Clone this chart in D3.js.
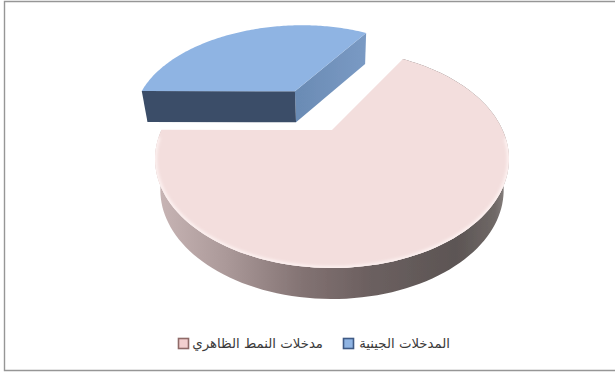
<!DOCTYPE html>
<html lang="ar">
<head>
<meta charset="utf-8">
<style>
  html, body { margin: 0; padding: 0; background: #fff; }
  svg { display: block; }
</style>
<script src="https://cdn.jsdelivr.net/npm/d3@7"></script>
</head>
<body>
<div id="chart"></div>
<script>
// Categories and shares of the exploded 3D pie
const categories = ["المدخلات الجينية", "مدخلات النمط الظاهري"];
const shares = [33.5, 66.5];
const explodedCategory = 0;
const topColors = ["#8fb4e3", "#f3dedd"];
const legendColors = ["#8fb4e3", "#f3cfcf"];
const legendEdges = ["#3f5a85", "#8f6a68"];

const width = 615, height = 374;
const svg = d3.select("#chart").append("svg").attr("width", width).attr("height", height);
const defs = svg.append("defs");

svg.append("rect").attr("width", width).attr("height", height).attr("fill", "#fff");
// Chart frame; it runs off the right side of the page
svg.append("path").attr("d", d3.line()([[615, 1.5], [4.5, 1.5], [4.5, 370.5], [615, 370.5]]))
  .attr("fill", "none").attr("stroke", "#969696").attr("stroke-width", 1.4);

// Perspective projection of the unit disc onto the page
const camera = { cx: 332, cy: 130, rx: 170.6, ry: 101.3, k: 0.266, depth: 31, shrink: 0.97 };
function project(u, v, lower) {
  const w = 1 - camera.k * v;
  const rx = camera.rx * (lower ? camera.shrink : 1);
  return [camera.cx + rx * u / w, camera.cy + (lower ? camera.depth : 0) + camera.ry * v / w];
}

const seam = Math.PI * 30.7 / 180;
const pie = d3.pie().sort(null).value(d => d)
  .startAngle(seam - 2 * Math.PI * shares[0] / 100)
  .endAngle(seam + 2 * Math.PI * shares[1] / 100);
const arcs = pie(shares);
const explode = 0.49;
const lineGen = d3.line();

function slicePoints(d, lower) {
  const mid = (d.startAngle + d.endAngle) / 2;
  const off = d.index === explodedCategory ? explode : 0;
  const ox = off * Math.sin(mid), oy = -off * Math.cos(mid);
  const at = a => project(ox + Math.sin(a), oy - Math.cos(a), lower);
  const angles = d3.range(0, 121).map(i => d.startAngle + (d.endAngle - d.startAngle) * i / 120);
  return { rim: angles.map(at), angles, apex: project(ox, oy, lower) };
}

// Gradient along the curved wall of the large slice
const wallGrad = defs.append("linearGradient").attr("id", "wall")
  .attr("gradientUnits", "userSpaceOnUse").attr("x1", 155).attr("x2", 509).attr("y1", 0).attr("y2", 0);
[[0, "#c9b6b6"], [0.2, "#ab9999"], [0.42, "#827272"], [0.6, "#6c6060"], [0.85, "#5c5554"], [0.96, "#6f6866"], [1, "#8f8886"]]
  .forEach(([o, c]) => wallGrad.append("stop").attr("offset", o).attr("stop-color", c));

// Gradient on the lit cut face of the pulled-out slice
const sideGrad = defs.append("linearGradient").attr("id", "sideBlue")
  .attr("gradientUnits", "userSpaceOnUse").attr("x1", 295).attr("x2", 367).attr("y1", 0).attr("y2", 0);
[[0, "#6a8bb4"], [1, "#7a9ac4"]].forEach(([o, c]) => sideGrad.append("stop").attr("offset", o).attr("stop-color", c));

const soft = defs.append("filter").attr("id", "soft").attr("x", "-5%").attr("y", "-5%").attr("width", "110%").attr("height", "110%");
soft.append("feGaussianBlur").attr("stdDeviation", 0.5);
const bevelBlur = defs.append("filter").attr("id", "bevelBlur")
  .attr("filterUnits", "userSpaceOnUse").attr("x", 0).attr("y", 0).attr("width", width).attr("height", height);
bevelBlur.append("feGaussianBlur").attr("stdDeviation", 1.6);

const pieLayer = svg.append("g").attr("filter", "url(#soft)");

arcs.forEach(d => {
  const top = slicePoints(d, false), low = slicePoints(d, true);
  const topPath = lineGen([top.apex, ...top.rim]) + "Z";
  if (d.index === explodedCategory) {
    // Two straight cut faces of the pulled-out slice
    pieLayer.append("path")
      .attr("d", lineGen([top.apex, top.rim[top.rim.length - 1], low.rim[low.rim.length - 1], low.apex]) + "Z")
      .attr("fill", "url(#sideBlue)");
    pieLayer.append("path")
      .attr("d", lineGen([top.apex, top.rim[0], low.rim[0], low.apex]) + "Z")
      .attr("fill", "#3b4d68");
    pieLayer.append("path").attr("d", topPath).attr("fill", topColors[d.index]);
  } else {
    // Curved wall: one quad per rim step, merged into a single outline
    const quads = top.rim.slice(0, -1).map((p, i) =>
      lineGen([p, top.rim[i + 1], low.rim[i + 1], low.rim[i]]) + "Z").join("");
    pieLayer.append("path").attr("d", quads).attr("fill", "url(#wall)");
    pieLayer.append("path").attr("d", topPath).attr("fill", topColors[d.index]);
    // Pale bevel along the near rim of the top face
    const nearRim = top.rim.filter((_, i) => -Math.cos(top.angles[i]) > 0.05);
    defs.append("clipPath").attr("id", "topClip").append("path").attr("d", topPath);
    pieLayer.append("g").attr("clip-path", "url(#topClip)")
      .append("path").attr("d", lineGen(nearRim)).attr("fill", "none")
      .attr("stroke", "#fdf2f1").attr("stroke-width", 4).attr("filter", "url(#bevelBlur)");
  }
});

// Legend, running right to left
const legendY = 343.5;
const legendItems = [
  { x: 343.5, textX: 450 },
  { x: 178.5, textX: 323 }
];
const legend = svg.append("g");
categories.forEach((name, i) => {
  const pos = legendItems[i];
  legend.append("rect").attr("x", pos.x).attr("y", legendY - 5).attr("width", 10).attr("height", 10)
    .attr("fill", legendColors[i]).attr("stroke", legendEdges[i]).attr("stroke-width", 1.6);
  legend.append("text").attr("x", pos.textX).attr("y", legendY + 4)
    .attr("text-anchor", "end")
    .attr("font-family", "DejaVu Sans, Noto Sans, sans-serif")
    .attr("font-size", 13.3).attr("fill", "#3a3a3a")
    .text(name);
});
</script>
</body>
</html>
